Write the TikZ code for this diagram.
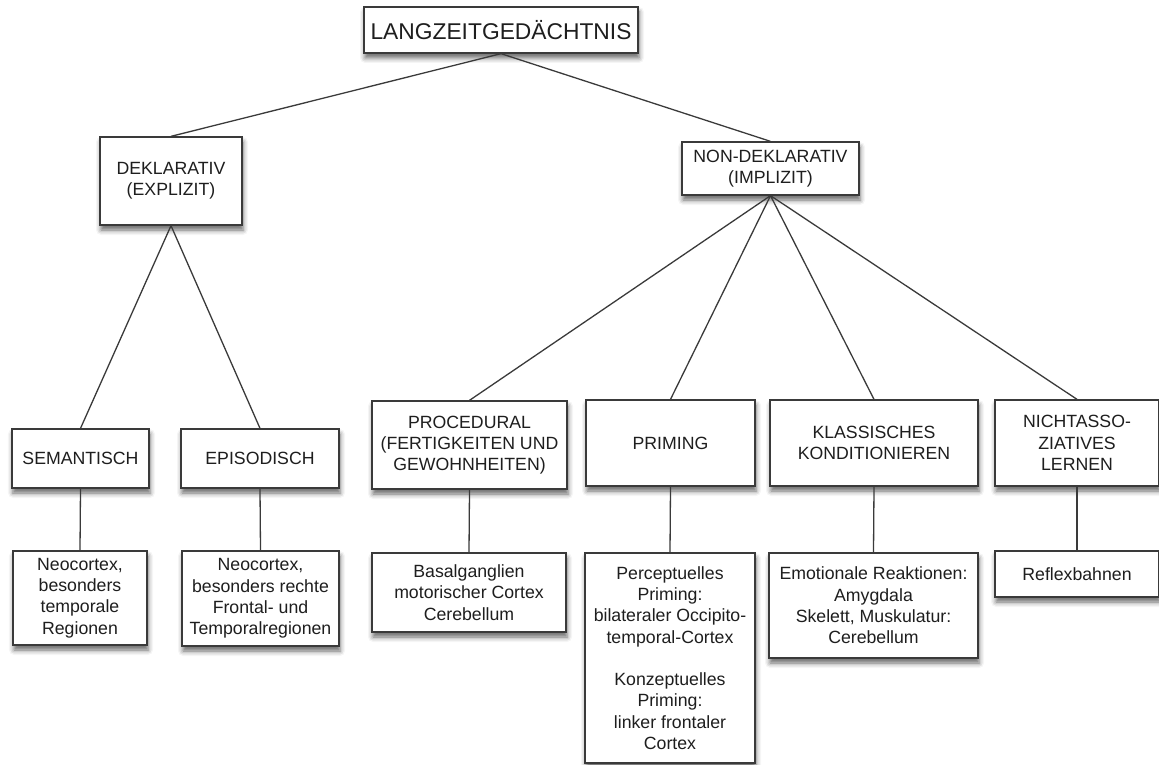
\documentclass[tikz,border=0pt]{standalone}
\usepackage{fontspec}
\setmainfont{Liberation Sans}
\usetikzlibrary{shadows.blur}
\definecolor{linec}{HTML}{3A3A3A}
\definecolor{textc}{HTML}{1E1E1E}
\tikzset{
  box/.style 2 args={draw=linec, line width=1.3pt, fill=white, inner sep=0pt,
    minimum width=#1, minimum height=#2, align=center, text=textc,
    font=\fontsize{17.7}{21.3}\selectfont,
    blur shadow={shadow xshift=1pt, shadow yshift=-5pt, shadow blur radius=5pt, shadow opacity=60}},
  conn/.style={draw=linec, line width=1.3pt}
}
\begin{document}
\begin{tikzpicture}[x=1pt,y=-1pt]
\useasboundingbox (0,0) rectangle (1159,765);
% level 1
\node[box={274pt}{46pt}, font=\fontsize{22.8}{26}\selectfont] (root) at (501,30) {LANGZEITGEDÄCHTNIS};
% level 2
\node[box={142pt}{88pt}] (dekl) at (171,181) {DEKLARATIV\\(EXPLIZIT)};
\node[box={177pt}{53pt}] (ndekl) at (770.5,168.5) {NON-DEKLARATIV\\(IMPLIZIT)};
% level 3
\node[box={137pt}{59pt}] (sem) at (80.5,458.5) {SEMANTISCH};
\node[box={158pt}{59pt}] (epi) at (260,458.5) {EPISODISCH};
\node[box={195pt}{88pt}] (proc) at (469.5,445) {PROCEDURAL\\(FERTIGKEITEN UND\\GEWOHNHEITEN)};
\node[box={169pt}{86pt}] (prim) at (670.5,443) {PRIMING};
\node[box={208pt}{86pt}] (klass) at (874,443) {KLASSISCHES\\KONDITIONIEREN};
\node[box={164pt}{86pt}] (nicht) at (1077,443) {NICHTASSO-\\ZIATIVES\\LERNEN};
% level 4
\node[box={134pt}{94pt}] (semc) at (80,598) {Neocortex,\\besonders\\temporale\\Regionen};
\node[box={157pt}{95pt}] (epic) at (260.5,598.5) {Neocortex,\\besonders rechte\\Frontal- und\\Temporalregionen};
\node[box={194pt}{79pt}] (basal) at (469,592.5) {Basalganglien\\motorischer Cortex\\Cerebellum};
\node[box={170pt}{210pt}] (primc) at (670,658) {Perceptuelles\\Priming:\\bilateraler Occipito-\\temporal-Cortex\\[21.3pt]Konzeptuelles\\Priming:\\linker frontaler\\Cortex};
\node[box={209pt}{105pt}] (klassc) at (873.5,605.5) {Emotionale Reaktionen:\\Amygdala\\Skelett, Muskulatur:\\Cerebellum};
\node[box={164pt}{46pt}] (reflex) at (1077,574) {Reflexbahnen};
% connectors
\draw[conn] (root.south) -- (dekl.north);
\draw[conn] (root.south) -- (ndekl.north);
\draw[conn] (dekl.south) -- (sem.north);
\draw[conn] (dekl.south) -- (epi.north);
\draw[conn] (ndekl.south) -- (proc.north);
\draw[conn] (ndekl.south) -- (prim.north);
\draw[conn] (ndekl.south) -- (klass.north);
\draw[conn] (ndekl.south) -- (nicht.north);
\draw[conn] (sem.south) -- (semc.north);
\draw[conn] (epi.south) -- (epic.north);
\draw[conn] (proc.south) -- (basal.north);
\draw[conn] (prim.south) -- (primc.north);
\draw[conn] (klass.south) -- (klassc.north);
\draw[conn] (nicht.south) -- (reflex.north);
\end{tikzpicture}
\end{document}
